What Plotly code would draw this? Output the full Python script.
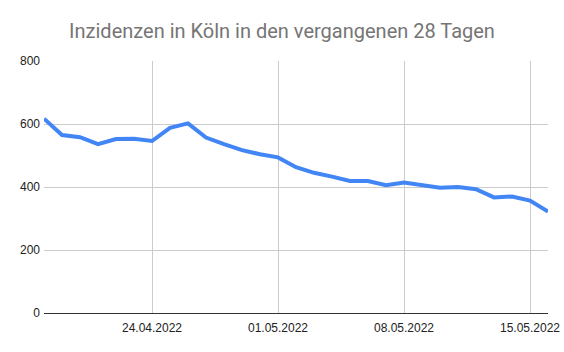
import plotly.graph_objects as go
import pandas as pd

dates = pd.date_range("2022-04-18", "2022-05-16", freq="D")
values = [617, 565, 558, 536, 552, 553, 546, 588, 602, 557, 536, 517, 504, 494,
          463, 445, 433, 419, 419, 406, 414, 405, 398, 400, 393, 367, 370, 357, 322]
tick_dates = ["2022-04-24", "2022-05-01", "2022-05-08", "2022-05-15"]
tick_labels = ["24.04.2022", "01.05.2022", "08.05.2022", "15.05.2022"]
y_ticks = [0, 200, 400, 600, 800]

fig = go.Figure(go.Scatter(
    x=dates, y=values, mode="lines",
    line=dict(color="#4285F4", width=4),
    hoverinfo="skip",
))

fig.update_layout(
    width=564, height=352,
    margin=dict(l=44, r=16, t=61, b=39),
    paper_bgcolor="white", plot_bgcolor="white",
    showlegend=False,
    title=dict(text="Inzidenzen in Köln in den vergangenen 28 Tagen",
               x=0.5, xanchor="center", y=1 - 31/352, yanchor="middle",
               font=dict(family="Roboto", size=20, color="#757575")),
    font=dict(family="Liberation Sans, Arial", size=12, color="#222222"),
)
fig.update_xaxes(
    type="date", range=["2022-04-18", "2022-05-16"],
    tickvals=tick_dates, ticktext=tick_labels,
    showgrid=True, gridcolor="#cccccc", gridwidth=1,
    showline=False, zeroline=False, ticks="", automargin=False,
    ticklabelstandoff=6,
    tickfont=dict(family="Liberation Sans, Arial", size=12, color="#222222"),
)
fig.update_yaxes(
    range=[0, 800], tickvals=y_ticks,
    showgrid=True, gridcolor="#cccccc", gridwidth=1,
    zeroline=True, zerolinecolor="#333333", zerolinewidth=1,
    showline=False, ticks="", ticklen=0, automargin=False,
    ticklabelstandoff=3,
    tickfont=dict(family="Liberation Sans, Arial", size=12, color="#222222"),
)

fig.write_html("out.html")
